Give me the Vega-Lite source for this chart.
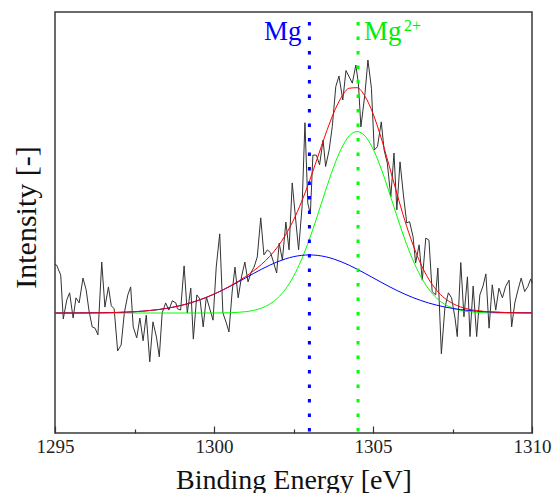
{
  "$schema": "https://vega.github.io/schema/vega-lite/v6.json",
  "autosize": {"type": "none"},
  "padding": {"left": 55, "top": 12, "right": 22, "bottom": 60},
  "width": 477,
  "height": 421,
  "background": "white",
  "config": {
    "view": {"stroke": "#3a3a3a", "strokeWidth": 1.5},
    "font": "Liberation Serif"
  },
  "datasets": {
    "raw": [
      {"E":1295.00,"I":40.1},{"E":1295.05,"I":39.9},{"E":1295.18,"I":37.5},{"E":1295.26,"I":27.1},{"E":1295.37,"I":31.6},
      {"E":1295.46,"I":33.3},{"E":1295.57,"I":27.3},{"E":1295.66,"I":32.1},{"E":1295.76,"I":30.9},{"E":1295.88,"I":36.8},
      {"E":1295.98,"I":34.0},{"E":1296.07,"I":29.0},{"E":1296.17,"I":25.2},{"E":1296.26,"I":24.9},{"E":1296.35,"I":23.3},
      {"E":1296.47,"I":40.6},{"E":1296.57,"I":29.9},{"E":1296.68,"I":34.7},{"E":1296.77,"I":30.2},{"E":1296.86,"I":29.5},
      {"E":1296.97,"I":19.5},{"E":1297.08,"I":20.9},{"E":1297.18,"I":28.5},{"E":1297.29,"I":32.8},{"E":1297.38,"I":34.7},
      {"E":1297.46,"I":25.2},{"E":1297.57,"I":22.6},{"E":1297.67,"I":27.3},{"E":1297.77,"I":21.9},{"E":1297.87,"I":28.0},
      {"E":1297.98,"I":16.9},{"E":1298.08,"I":26.4},{"E":1298.19,"I":22.8},{"E":1298.28,"I":18.1},{"E":1298.37,"I":28.5},
      {"E":1298.48,"I":30.9},{"E":1298.58,"I":29.2},{"E":1298.69,"I":31.4},{"E":1298.80,"I":30.9},{"E":1298.85,"I":29.5},
      {"E":1298.95,"I":29.2},{"E":1299.06,"I":39.7},{"E":1299.16,"I":28.5},{"E":1299.27,"I":34.4},{"E":1299.35,"I":22.3},
      {"E":1299.46,"I":32.8},{"E":1299.56,"I":31.8},{"E":1299.66,"I":25.2},{"E":1299.76,"I":32.3},{"E":1299.86,"I":29.7},
      {"E":1299.97,"I":26.8},{"E":1300.07,"I":39.4},{"E":1300.18,"I":47.3},{"E":1300.28,"I":28.5},{"E":1300.39,"I":26.1},
      {"E":1300.47,"I":24.0},{"E":1300.57,"I":33.5},{"E":1300.66,"I":39.4},{"E":1300.76,"I":32.1},{"E":1300.87,"I":37.3},
      {"E":1300.97,"I":40.6},{"E":1301.07,"I":35.9},{"E":1301.17,"I":38.2},{"E":1301.26,"I":39.4},{"E":1301.36,"I":41.8},
      {"E":1301.47,"I":51.1},{"E":1301.57,"I":42.3},{"E":1301.68,"I":43.5},{"E":1301.78,"I":42.8},{"E":1301.87,"I":40.6},
      {"E":1301.97,"I":38.0},{"E":1302.05,"I":45.1},{"E":1302.15,"I":41.1},{"E":1302.26,"I":50.1},{"E":1302.36,"I":43.5},
      {"E":1302.46,"I":59.4},{"E":1302.57,"I":50.6},{"E":1302.66,"I":43.5},{"E":1302.77,"I":53.8},{"E":1302.86,"I":73.7},
      {"E":1302.95,"I":54.6},{"E":1303.03,"I":52.0},{"E":1303.11,"I":66.0},{"E":1303.22,"I":66.0},{"E":1303.32,"I":63.7},
      {"E":1303.43,"I":69.6},{"E":1303.51,"I":63.3},{"E":1303.62,"I":67.2},{"E":1303.72,"I":72.8},{"E":1303.83,"I":82.3},
      {"E":1303.93,"I":84.8},{"E":1304.05,"I":79.1},{"E":1304.15,"I":86.1},{"E":1304.25,"I":84.6},{"E":1304.35,"I":83.1},
      {"E":1304.46,"I":87.4},{"E":1304.54,"I":83.1},{"E":1304.62,"I":72.7},{"E":1304.75,"I":80.8},{"E":1304.84,"I":88.6},
      {"E":1304.95,"I":81.9},{"E":1305.04,"I":67.2},{"E":1305.14,"I":68.0},{"E":1305.26,"I":73.9},{"E":1305.35,"I":67.2},
      {"E":1305.45,"I":64.1},{"E":1305.56,"I":56.1},{"E":1305.66,"I":66.5},{"E":1305.75,"I":53.0},{"E":1305.85,"I":64.4},
      {"E":1305.95,"I":57.0},{"E":1306.06,"I":49.9},{"E":1306.15,"I":50.2},{"E":1306.26,"I":46.6},{"E":1306.34,"I":40.4},
      {"E":1306.45,"I":44.7},{"E":1306.55,"I":36.3},{"E":1306.66,"I":46.3},{"E":1306.76,"I":45.8},{"E":1306.86,"I":33.6},
      {"E":1306.97,"I":32.8},{"E":1307.04,"I":39.2},{"E":1307.15,"I":18.8},{"E":1307.26,"I":29.7},{"E":1307.37,"I":33.3},
      {"E":1307.47,"I":32.1},{"E":1307.58,"I":27.3},{"E":1307.65,"I":22.9},{"E":1307.76,"I":40.5},{"E":1307.86,"I":27.6},
      {"E":1307.97,"I":37.1},{"E":1308.05,"I":22.9},{"E":1308.15,"I":34.9},{"E":1308.26,"I":22.9},{"E":1308.36,"I":32.8},
      {"E":1308.46,"I":34.9},{"E":1308.55,"I":37.8},{"E":1308.65,"I":24.9},{"E":1308.75,"I":35.2},{"E":1308.86,"I":29.2},
      {"E":1308.96,"I":34.4},{"E":1309.07,"I":32.1},{"E":1309.17,"I":34.8},{"E":1309.28,"I":36.3},{"E":1309.36,"I":25.2},
      {"E":1309.46,"I":30.9},{"E":1309.56,"I":34.0},{"E":1309.66,"I":36.8},{"E":1309.77,"I":33.6},{"E":1309.87,"I":34.8},
      {"E":1309.96,"I":36.6},{"E":1310.00,"I":35.6}
    ],
    "fit": [
      {"E":1295.00,"b":28.5,"g":28.5,"r":28.5},{"E":1295.25,"b":28.5,"g":28.5,"r":28.5},
      {"E":1295.50,"b":28.51,"g":28.5,"r":28.51},{"E":1295.75,"b":28.52,"g":28.5,"r":28.52},
      {"E":1296.00,"b":28.53,"g":28.5,"r":28.53},{"E":1296.25,"b":28.55,"g":28.5,"r":28.55},
      {"E":1296.50,"b":28.57,"g":28.5,"r":28.57},{"E":1296.75,"b":28.6,"g":28.5,"r":28.6},
      {"E":1297.00,"b":28.65,"g":28.5,"r":28.65},{"E":1297.25,"b":28.72,"g":28.5,"r":28.72},
      {"E":1297.50,"b":28.81,"g":28.5,"r":28.81},{"E":1297.75,"b":28.94,"g":28.5,"r":28.94},
      {"E":1298.00,"b":29.11,"g":28.5,"r":29.11},{"E":1298.25,"b":29.32,"g":28.5,"r":29.32},
      {"E":1298.50,"b":29.6,"g":28.5,"r":29.6},{"E":1298.75,"b":29.94,"g":28.5,"r":29.94},
      {"E":1299.00,"b":30.37,"g":28.5,"r":30.37},{"E":1299.25,"b":30.88,"g":28.5,"r":30.88},
      {"E":1299.50,"b":31.49,"g":28.5,"r":31.49},{"E":1299.75,"b":32.19,"g":28.5,"r":32.19},
      {"E":1300.00,"b":32.98,"g":28.51,"r":32.99},{"E":1300.25,"b":33.86,"g":28.53,"r":33.89},
      {"E":1300.50,"b":34.82,"g":28.57,"r":34.89},{"E":1300.75,"b":35.83,"g":28.66,"r":35.99},
      {"E":1301.00,"b":36.87,"g":28.82,"r":37.19},{"E":1301.25,"b":37.91,"g":29.13,"r":38.54},
      {"E":1301.50,"b":38.92,"g":29.68,"r":40.1},{"E":1301.75,"b":39.85,"g":30.59,"r":41.94},
      {"E":1302.00,"b":40.68,"g":32.04,"r":44.22},{"E":1302.25,"b":41.36,"g":34.19,"r":47.05},
      {"E":1302.50,"b":41.88,"g":37.2,"r":50.58},{"E":1302.75,"b":42.19,"g":41.16,"r":54.85},
      {"E":1303.00,"b":42.3,"g":46.02,"r":59.82},{"E":1303.25,"b":42.19,"g":51.57,"r":65.26},
      {"E":1303.50,"b":41.88,"g":57.39,"r":70.77},{"E":1303.75,"b":41.36,"g":62.92,"r":75.78},
      {"E":1304.00,"b":40.68,"g":67.5,"r":79.68},{"E":1304.25,"b":39.85,"g":70.54,"r":81.89},
      {"E":1304.50,"b":38.92,"g":71.6,"r":82.02},{"E":1304.75,"b":37.91,"g":70.54,"r":79.95},
      {"E":1305.00,"b":36.87,"g":67.5,"r":75.87},{"E":1305.25,"b":35.83,"g":62.92,"r":70.25},
      {"E":1305.50,"b":34.82,"g":57.39,"r":63.71},{"E":1305.75,"b":33.86,"g":51.57,"r":56.93},
      {"E":1306.00,"b":32.98,"g":46.02,"r":50.5},{"E":1306.25,"b":32.19,"g":41.16,"r":44.85},
      {"E":1306.50,"b":31.49,"g":37.2,"r":40.19},{"E":1306.75,"b":30.88,"g":34.19,"r":36.57},
      {"E":1307.00,"b":30.37,"g":32.04,"r":33.91},{"E":1307.25,"b":29.94,"g":30.59,"r":32.03},
      {"E":1307.50,"b":29.6,"g":29.68,"r":30.78},{"E":1307.75,"b":29.32,"g":29.13,"r":29.95},
      {"E":1308.00,"b":29.11,"g":28.82,"r":29.43},{"E":1308.25,"b":28.94,"g":28.66,"r":29.1},
      {"E":1308.50,"b":28.81,"g":28.57,"r":28.88},{"E":1308.75,"b":28.72,"g":28.53,"r":28.75},
      {"E":1309.00,"b":28.65,"g":28.51,"r":28.66},{"E":1309.25,"b":28.6,"g":28.5,"r":28.6},
      {"E":1309.50,"b":28.57,"g":28.5,"r":28.57},{"E":1309.75,"b":28.55,"g":28.5,"r":28.55},
      {"E":1310.00,"b":28.53,"g":28.5,"r":28.53}
    ]
  },
  "layer": [
    {
      "data": {"name": "raw"},
      "mark": {"type": "line", "color": "#333333", "strokeWidth": 1},
      "encoding": {
        "x": {
          "field": "E", "type": "quantitative",
          "scale": {"domain": [1295, 1310], "nice": false, "zero": false},
          "axis": {
            "title": "Binding Energy [eV]",
            "values": [1295, 1297.5, 1300, 1302.5, 1305, 1307.5, 1310],
            "labelExpr": "datum.value % 5 == 0 ? format(datum.value, 'd') : ''",
            "tickSize": {"condition": {"test": "datum.value % 5 == 0", "value": -7}, "value": -4},
            "tickColor": "#333333",
            "tickWidth": 1.2,
            "domain": false,
            "grid": false,
            "labelFont": "Liberation Serif",
            "labelFontSize": 19,
            "labelColor": "#222222",
            "labelBaseline": "alphabetic",
            "labelPadding": 26,
            "labelFlush": false,
            "labelOverlap": false,
            "titleFont": "Liberation Serif",
            "titleFontSize": 28,
            "titleFontWeight": "normal",
            "titleColor": "#111111",
            "titleBaseline": "alphabetic",
            "titleAlign": "center",
            "titleX": 238.5,
            "titleY": 55
          }
        },
        "y": {
          "field": "I", "type": "quantitative",
          "scale": {"domain": [0, 100], "nice": false, "zero": false},
          "axis": {
            "title": "Intensity [-]",
            "labels": false,
            "ticks": false,
            "domain": false,
            "grid": false,
            "titleFont": "Liberation Serif",
            "titleFontSize": 30,
            "titleFontWeight": "normal",
            "titleColor": "#111111",
            "titleAngle": -90,
            "titleAlign": "center",
            "titleBaseline": "alphabetic",
            "titleX": -20,
            "titleY": 205
          }
        }
      }
    },
    {
      "data": {"name": "fit"},
      "mark": {"type": "line", "color": "#00ff00", "strokeWidth": 1, "interpolate": "monotone"},
      "encoding": {
        "x": {"field": "E", "type": "quantitative"},
        "y": {"field": "g", "type": "quantitative"}
      }
    },
    {
      "data": {"name": "fit"},
      "mark": {"type": "line", "color": "#0000ff", "strokeWidth": 1, "interpolate": "monotone"},
      "encoding": {
        "x": {"field": "E", "type": "quantitative"},
        "y": {"field": "b", "type": "quantitative"}
      }
    },
    {
      "data": {"name": "fit"},
      "mark": {"type": "line", "color": "#ff0000", "strokeWidth": 1, "interpolate": "monotone"},
      "encoding": {
        "x": {"field": "E", "type": "quantitative"},
        "y": {"field": "r", "type": "quantitative"}
      }
    },
    {
      "data": {"values": [{"E": 1303.0, "y0": 0, "y1": 97.6}]},
      "mark": {"type": "rule", "color": "#0000ff", "strokeWidth": 3, "strokeDash": [3.5, 11]},
      "encoding": {
        "x": {"field": "E", "type": "quantitative"},
        "y": {"field": "y1", "type": "quantitative"},
        "y2": {"field": "y0"}
      }
    },
    {
      "data": {"values": [{"E": 1304.53, "y0": 0, "y1": 97.6}]},
      "mark": {"type": "rule", "color": "#00ff00", "strokeWidth": 3, "strokeDash": [3.5, 11]},
      "encoding": {
        "x": {"field": "E", "type": "quantitative"},
        "y": {"field": "y1", "type": "quantitative"},
        "y2": {"field": "y0"}
      }
    },
    {
      "data": {"values": [{"E": 1303.0, "I": 93.35, "label": "Mg"}]},
      "mark": {"type": "text", "color": "#0000ff", "font": "Liberation Serif", "fontSize": 27, "align": "right", "baseline": "alphabetic", "dx": -8},
      "encoding": {
        "x": {"field": "E", "type": "quantitative"},
        "y": {"field": "I", "type": "quantitative"},
        "text": {"field": "label"}
      }
    },
    {
      "data": {"values": [{"E": 1304.53, "I": 93.35, "label": "Mg"}]},
      "mark": {"type": "text", "color": "#00ee00", "font": "Liberation Serif", "fontSize": 27, "align": "left", "baseline": "alphabetic", "dx": 6},
      "encoding": {
        "x": {"field": "E", "type": "quantitative"},
        "y": {"field": "I", "type": "quantitative"},
        "text": {"field": "label"}
      }
    },
    {
      "data": {"values": [{"E": 1304.53, "I": 93.35, "label": "2+"}]},
      "mark": {"type": "text", "color": "#00ee00", "font": "Liberation Serif", "fontSize": 16, "align": "left", "baseline": "alphabetic", "dx": 46, "dy": -9},
      "encoding": {
        "x": {"field": "E", "type": "quantitative"},
        "y": {"field": "I", "type": "quantitative"},
        "text": {"field": "label"}
      }
    }
  ]
}
